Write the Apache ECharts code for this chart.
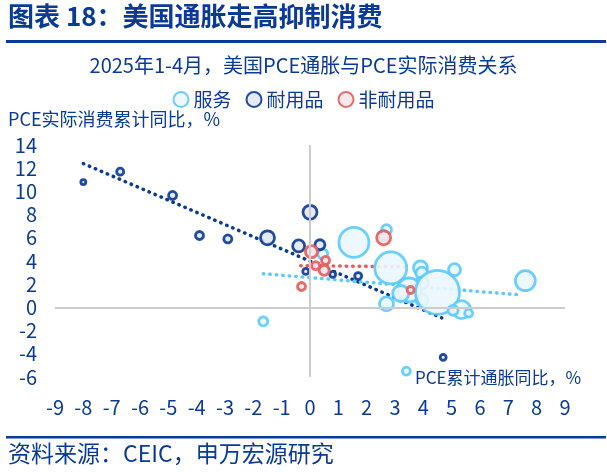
<!DOCTYPE html>
<html><head><meta charset="utf-8">
<script src="https://cdn.jsdelivr.net/npm/echarts@6/dist/echarts.min.js"></script>
<style>html,body{margin:0;padding:0;background:#fff}#c{width:607px;height:472px}</style>
</head><body><div id="c"></div>
<script>
// [inflation %, real consumption %, bubble diameter]
const services = [
  [-1.65,-1.2,9],[1.55,5.6,30],[2.7,6.7,10],[2.6,6.2,10],[2.85,3.4,32],[3.9,3.4,14],
  [3.95,2.95,12],[3.95,2.1,12],[3.95,0.65,12],[3.5,1.5,24],[3.2,1.2,16],[4.5,1.3,44],
  [5.1,3.25,12],[2.7,0.3,14],[5.35,-0.2,18],[5.05,-0.25,10],[5.6,-0.5,8],[7.6,2.3,20],
  [3.4,-5.5,8],[0.45,4.6,10]
];
const durables = [
  [-8.0,10.8,5],[-6.7,11.7,7],[-4.85,9.65,8],[-3.9,6.2,8],[-2.9,5.9,8],[-1.5,6.0,14],
  [0.0,8.2,14],[-0.4,5.3,12],[-0.15,3.1,6],[0.35,5.4,10],[0.8,2.85,6],[1.7,2.7,7],[4.7,-4.3,6]
];
const nondurables = [
  [0.05,4.8,12],[0.2,3.6,8],[-0.3,1.8,8],[0.55,4.05,8],[0.5,3.2,10],[2.6,6.0,14],[3.55,1.5,7]
];
const trendDurables = [[-8,12.4],[4.65,-0.9]];
const trendNondurables = [[-0.33,3.6],[3.4,3.5]];
const trendServices = [[-1.65,2.9],[7.3,1.1]];
const seriesNames = ['服务','耐用品','非耐用品'];

const DB='#0a3a94', LB='#5ccaff', RD='#e35d5d';
const F='"Noto Sans CJK SC","Noto Sans",sans-serif';
const chart = echarts.init(document.getElementById('c'));
function bubble(name,data,color,fill){
  return {name,type:'scatter',data,symbolSize:d=>d[2],
    itemStyle:{color:fill,borderColor:color,borderWidth:2.8,opacity:0.9}};
}
function trend(data,color){
  return {type:'line',data,symbol:'none',silent:true,z:1,
    lineStyle:{color,width:3.5,type:[0.5,6],cap:'round'}};
}
chart.setOption({
  animation:false,
  textStyle:{fontFamily:F},
  grid:{left:55,right:42,top:145,bottom:95},
  title:{text:'2025年1-4月，美国PCE通胀与PCE实际消费关系',left:'center',top:50,
    textStyle:{color:DB,fontSize:20,fontWeight:'normal',fontFamily:F}},
  legend:{top:85,left:'center',itemWidth:15,itemHeight:15,itemGap:14,
    textStyle:{color:DB,fontSize:19,fontFamily:F},
    data:seriesNames.map(n=>({name:n,icon:'circle'}))},
  xAxis:{type:'value',min:-9,max:9,interval:1,
    axisLine:{show:false},axisTick:{show:false},splitLine:{show:false},
    axisLabel:{color:DB,fontSize:20,margin:20,fontFamily:F}},
  yAxis:{type:'value',min:-6,max:14,interval:2,
    axisLine:{show:false},axisTick:{show:false},splitLine:{show:false},
    axisLabel:{color:DB,fontSize:20,margin:18,fontFamily:F}},
  graphic:[
    {type:'text',left:8,top:3,style:{text:'图表 18：美国通胀走高抑制消费',fill:DB,font:'bold 26px '+F}},
    {type:'rect',shape:{x:6,y:40,width:600,height:3},style:{fill:DB}},
    {type:'text',left:8,top:110,style:{text:'PCE实际消费累计同比，%',fill:DB,font:'18px '+F}},
    {type:'text',left:415,top:369,style:{text:'PCE累计通胀同比，%',fill:DB,font:'17px '+F}},
    {type:'rect',shape:{x:6,y:436,width:600,height:2.5},style:{fill:DB}},
    {type:'text',left:8,top:442,style:{text:'资料来源：CEIC，申万宏源研究',fill:DB,font:'23px '+F}}
  ],
  series:[
    Object.assign(bubble(seriesNames[0],services,LB,'#eaf6fe'),{markLine:{silent:true,symbol:'none',label:{show:false},
      lineStyle:{color:'#cccccc',width:2,type:'solid'},data:[{xAxis:0},{yAxis:0}]}}),
    bubble(seriesNames[1],durables,DB,'#e2e7f2'),
    bubble(seriesNames[2],nondurables,RD,'#f6e6e9'),
    trend(trendDurables,DB),
    trend(trendNondurables,RD),
    trend(trendServices,LB)
  ]
});
</script></body></html>
